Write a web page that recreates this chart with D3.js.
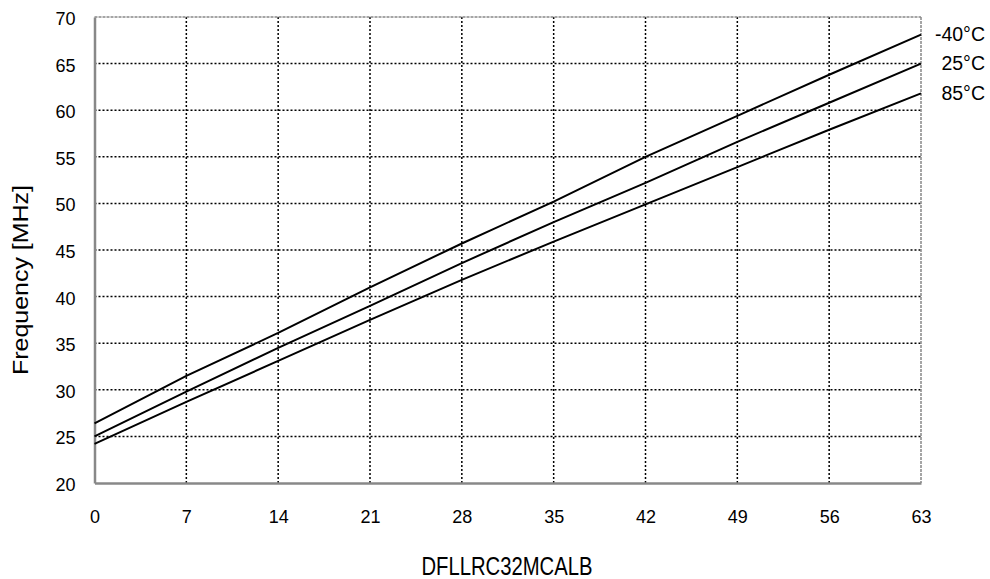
<!DOCTYPE html>
<html>
<head>
<meta charset="utf-8">
<script src="https://cdn.jsdelivr.net/npm/d3@7"></script>
<style>
  html, body { margin: 0; padding: 0; background: #fff; }
  svg { display: block; }
  text { font-family: "Liberation Sans", Arial, sans-serif; fill: #000; }
</style>
</head>
<body>
<svg id="chart" width="990" height="579"></svg>
<script>
const xValues = [0, 7, 14, 21, 28, 35, 42, 49, 56, 63];
const xTicks = [0, 7, 14, 21, 28, 35, 42, 49, 56, 63];
const yTicks = [20, 25, 30, 35, 40, 45, 50, 55, 60, 65, 70];
const seriesNames = ["-40°C", "25°C", "85°C"];
const seriesM40 = [26.4, 31.5, 36.1, 41.0, 45.7, 50.2, 55.0, 59.4, 63.8, 68.1];
const series25 = [25.0, 29.8, 34.5, 39.0, 43.6, 48.0, 52.2, 56.6, 60.8, 65.0];
const series85 = [24.2, 28.7, 33.1, 37.5, 41.8, 45.9, 49.9, 53.9, 57.9, 61.8];
const xTitle = "DFLLRC32MCALB";
const yTitle = "Frequency [MHz]";

(function () {
const series = [seriesM40, series25, series85];

const svg = d3.select("#chart");
const mLeft = 94.5, mRight = 921, mTop = 17, mBottom = 483;

const x = d3.scaleLinear().domain([0, 63]).range([mLeft, mRight]);
const y = d3.scaleLinear().domain([20, 70]).range([mBottom, mTop]);

// gridlines
const grid = svg.append("g");
grid.selectAll("line.h").data(yTicks.filter(v => v > 20 && v < 70)).enter().append("line")
  .attr("x1", mLeft).attr("x2", mRight)
  .attr("y1", d => y(d)).attr("y2", d => y(d))
  .attr("stroke", "#000").attr("stroke-width", 1.5).attr("stroke-dasharray", "2,2");
grid.selectAll("line.v").data(xTicks.filter(v => v > 0 && v < 63)).enter().append("line")
  .attr("y1", mTop).attr("y2", mBottom)
  .attr("x1", d => x(d)).attr("x2", d => x(d))
  .attr("stroke", "#000").attr("stroke-width", 1.5).attr("stroke-dasharray", "2,2");

// border top/right dashed gray
svg.append("line").attr("x1", mLeft).attr("x2", mRight).attr("y1", mTop).attr("y2", mTop)
  .attr("stroke", "#888").attr("stroke-width", 1.5).attr("stroke-dasharray", "3,1");
svg.append("line").attr("x1", mRight).attr("x2", mRight).attr("y1", mTop).attr("y2", mBottom)
  .attr("stroke", "#888").attr("stroke-width", 1.5).attr("stroke-dasharray", "3,1");

// axes
const xAxis = d3.axisBottom(x).tickValues(xTicks).tickSize(0).tickPadding(27.5);
const gx = svg.append("g").attr("transform", `translate(0,${mBottom})`).call(xAxis);
gx.select(".domain").attr("stroke", "#888").attr("stroke-width", 2.5);
gx.selectAll("text").attr("font-size", 18).attr("font-family", "Liberation Sans, Arial, sans-serif").attr("fill", "#000");

const yAxis = d3.axisLeft(y).tickValues(yTicks).tickSize(0).tickPadding(19);
const gy = svg.append("g").attr("transform", `translate(${mLeft},0)`).call(yAxis);
gy.select(".domain").attr("stroke", "#888").attr("stroke-width", 2.5);
gy.selectAll("text").attr("font-size", 18).attr("dy", 7.5)
  .attr("font-family", "Liberation Sans, Arial, sans-serif").attr("fill", "#000");

// lines
const line = d3.line().x((d, i) => x(xValues[i])).y(d => y(d));
svg.selectAll("path.series").data(series).enter().append("path")
  .attr("class", "series")
  .attr("d", d => line(d))
  .attr("fill", "none").attr("stroke", "#000").attr("stroke-width", 2);

// labels
svg.selectAll("text.lbl").data(seriesNames).enter().append("text")
  .attr("class", "lbl")
  .attr("x", 985)
  .attr("y", (d, i) => y(series[i][series[i].length - 1]) + 6.5)
  .attr("text-anchor", "end")
  .attr("font-size", 19.5)
  .text(d => d);

svg.append("text").attr("x", 507).attr("y", 575)
  .attr("text-anchor", "middle").attr("font-size", 25)
  .attr("textLength", 171).attr("lengthAdjust", "spacingAndGlyphs").text(xTitle);
svg.append("text").attr("transform", `translate(27.5,280) rotate(-90)`)
  .attr("text-anchor", "middle").attr("font-size", 22)
  .attr("textLength", 190).attr("lengthAdjust", "spacingAndGlyphs").text(yTitle);
})();
</script>
</body>
</html>
